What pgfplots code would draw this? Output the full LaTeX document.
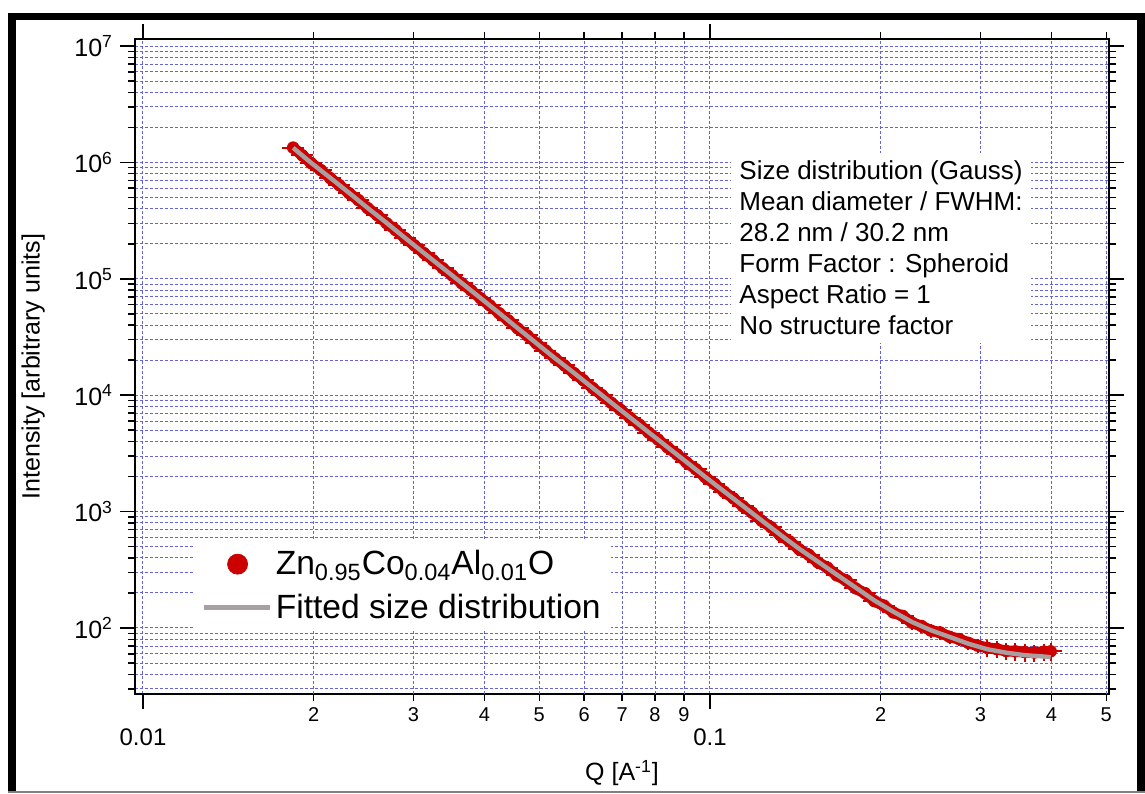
\documentclass[border=0pt]{standalone}
\usepackage{pgfplots}
\pgfplotsset{compat=1.18}
\usepackage{pgfplotstable}
\usepackage{fontspec}
\setmainfont{Liberation Sans}
\definecolor{gridblue}{RGB}{100,100,215}
\definecolor{datared}{RGB}{205,0,0}
\definecolor{fitgray}{RGB}{168,160,160}

\pgfplotstableread{
Q I ey
0.0184 1.34e6 0.015
0.0191 1.15e6 0.015
0.0198 9.85e5 0.015
0.0206 8.58e5 0.015
0.0214 7.32e5 0.015
0.0222 6.38e5 0.015
0.0231 5.43e5 0.015
0.0240 4.74e5 0.015
0.0249 4.05e5 0.015
0.0259 3.52e5 0.015
0.0269 3.00e5 0.015
0.0279 2.62e5 0.015
0.0290 2.23e5 0.015
0.0301 1.94e5 0.015
0.0313 1.66e5 0.015
0.0325 1.44e5 0.015
0.0338 1.23e5 0.015
0.0351 1.07e5 0.015
0.0365 9.15e4 0.015
0.0379 7.96e4 0.015
0.0394 6.80e4 0.015
0.0409 5.91e4 0.015
0.0425 5.05e4 0.015
0.0441 4.39e4 0.015
0.0458 3.75e4 0.015
0.0476 3.26e4 0.015
0.0494 2.79e4 0.015
0.0513 2.42e4 0.015
0.0533 2.07e4 0.015
0.0554 1.80e4 0.015
0.0576 1.545e4 0.015
0.0598 1.345e4 0.015
0.0621 1.152e4 0.015
0.0645 1.002e4 0.015
0.0670 8590 0.015
0.0696 7470 0.015
0.0723 6400 0.015
0.0751 5580 0.015
0.0780 4770 0.015
0.0810 4160 0.015
0.0842 3560 0.015
0.0875 3100 0.05
0.0909 2650 0.05
0.0944 2315 0.05
0.0981 1975 0.05
0.1019 1730 0.05
0.1059 1480 0.05
0.1100 1300 0.05
0.1143 1110 0.05
0.1187 978 0.05
0.1233 835 0.05
0.1281 735 0.05
0.1331 626 0.05
0.1383 553 0.05
0.1437 474 0.05
0.1493 426 0.05
0.1551 366 0.09
0.1611 330 0.09
0.1674 283 0.09
0.1739 256 0.09
0.1807 219 0.09
0.1877 199 0.09
0.1950 170 0.09
0.2026 156 0.09
0.2105 136 0.09
0.2187 127 0.09
0.2272 111 0.13
0.2360 104 0.13
0.2452 95 0.13
0.2547 91.5 0.13
0.2646 84 0.13
0.2749 80.5 0.13
0.2856 74.5 0.13
0.2967 70.5 0.13
0.3083 67.5 0.17
0.3203 66 0.17
0.3327 63.5 0.17
0.3457 63 0.17
0.3591 62 0.17
0.3731 61.5 0.17
0.3876 62.5 0.17
0.3990 63 0.17
}\datatable

\pgfplotstableread{
Q I
0.0184 1.334e6
0.0198 9.91e5
0.0214 7.36e5
0.0231 5.47e5
0.0249 4.06e5
0.0269 3.02e5
0.0290 2.241e5
0.0313 1.665e5
0.0338 1.237e5
0.0365 9.19e4
0.0394 6.825e4
0.0425 5.07e4
0.0458 3.766e4
0.0494 2.798e4
0.0533 2.078e4
0.0576 1.550e4
0.0621 1.156e4
0.0670 8617
0.0723 6425
0.0780 4792
0.0842 3573
0.0909 2665
0.0981 1987
0.1059 1490
0.1143 1119
0.1233 841
0.1331 632
0.1437 479
0.1551 371
0.1674 287
0.1807 222.5
0.1950 172.3
0.2105 138.2
0.2272 112.5
0.2452 95.7
0.2646 83.8
0.2856 73.3
0.3083 65.7
0.3327 61.4
0.3591 58.4
0.3876 56.9
0.3990 56.1
}\fittable

\begin{document}
\begin{tikzpicture}
\useasboundingbox (0,0) rectangle (572.5pt,396.5pt);
\begin{axis}[
  at={(67.5pt,49.5pt)}, anchor=south west,
  scale only axis, width=487pt, height=327.5pt,
  xmode=log, ymode=log,
  xmin=0.00968, xmax=0.5055, ymin=27.1, ymax=1.149e7,
  clip marker paths=true,
  axis line style={line width=0.75pt},
  every tick/.style={black, line width=0.75pt},
  tick align=outside,
  major tick length=7.5pt, minor tick length=3.5pt,
  /pgf/number format/assume math mode=true,
  xtick={0.01,0.1}, xticklabels={0.01,0.1},
  xticklabel style={font=\fontsize{12}{14}\selectfont, anchor=center, yshift=-14pt},
  extra x ticks={0.02,0.03,0.04,0.05,0.06,0.07,0.08,0.09,0.2,0.3,0.4,0.5},
  extra x tick labels={2,3,4,5,6,7,8,9,2,3,4,5},
  extra x tick style={major tick length=3.5pt, grid=major,
     xticklabel style={font=\fontsize{10}{12}\selectfont, anchor=center, yshift=7pt}},
  ytick={100,1000,10000,100000,1000000,10000000},
  yticklabels={10\textsuperscript{2},10\textsuperscript{3},10\textsuperscript{4},10\textsuperscript{5},10\textsuperscript{6},10\textsuperscript{7}},
  yticklabel style={font=\fontsize{12.5}{14}\selectfont, anchor=east},
  minor ytick={30,40,50,60,70,80,90,200,300,400,500,600,700,800,900,2000,3000,4000,5000,6000,7000,8000,9000,20000,30000,40000,50000,60000,70000,80000,90000,200000,300000,400000,500000,600000,700000,800000,900000,2000000,3000000,4000000,5000000,6000000,7000000,8000000,9000000},
  grid=both,
  major grid style={gridblue, line width=0.5pt, dash pattern=on 1.5pt off 1pt},
  minor grid style={gridblue, line width=0.5pt, dash pattern=on 1.5pt off 1pt},
  xlabel={Q [A\textsuperscript{-1}]},
  ylabel={Intensity [arbitrary units]},
  label style={font=\fontsize{12.5}{15}\selectfont},
  xlabel style={at={(axis description cs:0.5,-0.1206)}, anchor=center},
  ylabel style={at={(axis description cs:-0.1045,0.5)}, anchor=center},
  legend style={at={(axis description cs:0.0616,0.235)}, anchor=north west,
     draw=none, fill=white, font=\fontsize{16.8}{19}\selectfont, row sep=4pt, inner sep=3pt},
  legend cell align=left,
]
\addplot[datared, line width=5.5pt, forget plot] table[x=Q,y=I]{\datatable};
\addplot[only marks, mark=*, mark size=2.9pt, datared, mark options={fill=datared, draw=datared},
  legend image code/.code={\path[datared] plot[mark=*, mark size=5pt, mark options={fill=datared, draw=datared}] coordinates {(13pt,0pt)};},
  error bars/.cd, x dir=both, x fixed relative=0.045, y dir=both, y explicit relative,
  error bar style={datared, line width=1pt}, error mark=none]
  table[x=Q, y=I, y error=ey]{\datatable};
\addlegendentry{Zn\textsubscript{0.95}Co\textsubscript{0.04}Al\textsubscript{0.01}O}
\addplot[fitgray, line width=2.2pt,
  legend image code/.code={\draw[fitgray, line width=2.2pt] (-4pt,0pt) -- (29pt,0pt);}]
  table[x=Q,y=I]{\fittable};
\addlegendentry{Fitted size distribution}
\node[anchor=north west, fill=white, inner sep=4pt, align=left,
  font=\fontsize{13}{15.5}\selectfont] at (axis description cs:0.612,0.827)
  {Size distribution (Gauss)\\Mean diameter / FWHM:\\28.2 nm / 30.2 nm\\Form Factor : Spheroid\\Aspect Ratio = 1\\No structure factor};
\end{axis}
\draw[line width=3.8pt] (6pt,0pt) -- (6pt,388.25pt) -- (570.6pt,388.25pt) -- (570.6pt,0pt);
\draw[gray, line width=1pt] (4pt,0.6pt) -- (572.5pt,0.6pt);
\end{tikzpicture}
\end{document}
